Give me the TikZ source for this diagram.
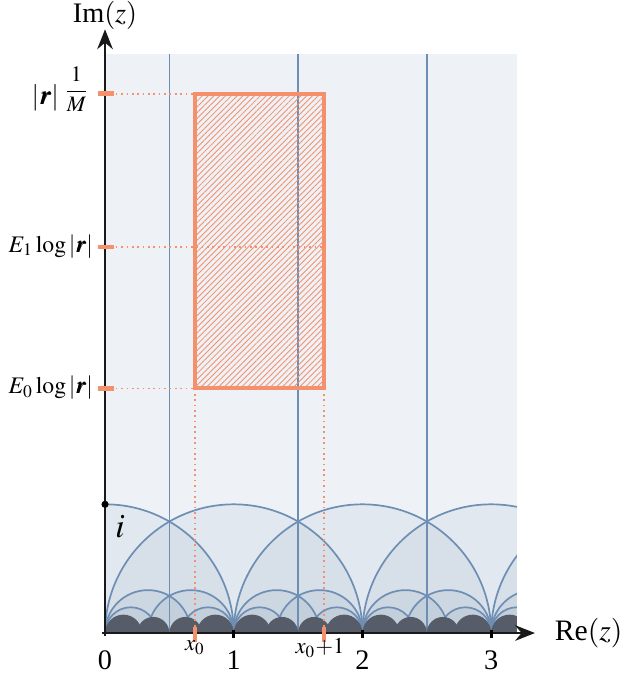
\documentclass[tikz,border=0pt]{standalone}
\usepackage{amsmath}
\usepackage{mathptmx}
\usepackage[no-math]{fontspec}
\setmainfont{Liberation Serif}
\usepackage{bm}
\usetikzlibrary{patterns.meta,arrows.meta}
\definecolor{bgc}{HTML}{EEF2F6}
\definecolor{arcc}{HTML}{6E8EB4}
\definecolor{layerc}{HTML}{6A84A6}
\definecolor{darkc}{HTML}{565D69}
\definecolor{salmonc}{HTML}{F4906C}
\tikzset{
  geod/.style={arcc, line width=0.6pt},
  layer/.style={layerc, fill opacity=0.085},
  darkfill/.style={darkc},
  axisline/.style={black!90, line width=0.9pt},
  guide/.style={salmonc, line width=0.6pt, dash pattern=on 0.6pt off 1.3pt},
  boxline/.style={salmonc, line width=1.4pt},
  hatch/.style={pattern={Lines[angle=45,distance=1.45pt,line width=0.3pt]}, pattern color=salmonc},
  stick/.style={salmonc, line width=1.6pt},
  btick/.style={black, line width=1pt},
  numlab/.style={font=\fontsize{10}{12}\selectfont, inner sep=0pt},
  sublab/.style={font=\fontsize{8}{10}\selectfont, inner sep=0pt},
  leftlab/.style={font=\fontsize{8.4}{10}\selectfont, anchor=base east, inner sep=0pt},
}
\begin{document}
\begin{tikzpicture}[x=1.6cm,y=1.6cm]
\useasboundingbox (-0.816,-0.326) rectangle (4.017,4.918);
\fill[bgc] (0,0) rectangle (3.2,4.5);
\begin{scope}
\clip (0,0) rectangle (3.2,4.5);
% translucent layers of the disks
\foreach \c in {0,1,2,3,4}
  \fill[layer] (\c+1,0) arc[start angle=0,end angle=180,radius=1] -- cycle;
\foreach \n in {0,1,2,3}{
  \fill[layer] (\n+2/3,0) arc[start angle=0,end angle=180,radius=1/3] -- cycle;
  \fill[layer] (\n+1,0) arc[start angle=0,end angle=180,radius=1/3] -- cycle;
  \fill[layer] (\n+2/5,0) arc[start angle=0,end angle=180,radius=1/5] -- cycle;
  \fill[layer] (\n+1,0) arc[start angle=0,end angle=180,radius=1/5] -- cycle;
}
% geodesics
\foreach \c in {0,1,2,3,4}
  \draw[geod] (\c+1,0) arc[start angle=0,end angle=180,radius=1];
\foreach \n in {0,1,2,3}{
  \draw[geod] (\n+2/3,0) arc[start angle=0,end angle=180,radius=1/3];
  \draw[geod] (\n+1,0) arc[start angle=0,end angle=180,radius=1/3];
  \draw[geod] (\n+2/5,0) arc[start angle=0,end angle=180,radius=1/5];
  \draw[geod] (\n+1,0) arc[start angle=0,end angle=180,radius=1/5];
}
\foreach \x in {0.5,1.5,2.5}
  \draw[geod] (\x,0) -- (\x,4.5);
% dark region
\foreach \n in {-1,0,1,2,3}{
  \fill[darkfill] (\n+2/7,0) arc[start angle=0,end angle=180,radius=1/7] -- cycle;
  \fill[darkfill] (\n+1,0) arc[start angle=0,end angle=180,radius=1/7] -- cycle;
  \fill[darkfill] (\n+1/2,0) arc[start angle=0,end angle=180,radius=1/8] -- cycle;
  \fill[darkfill] (\n+3/4,0) arc[start angle=0,end angle=180,radius=1/8] -- cycle;
}
\end{scope}
% coordinates
\coordinate (O) at (0,0);
\coordinate (xend) at (3.34,0);
\coordinate (ystart) at (0,-0.02);
\coordinate (yend) at (0,4.69);
\coordinate (yM) at (0,4.19);
\coordinate (yE1) at (0,3.0);
\coordinate (yE0) at (0,1.9);
\coordinate (xa) at (0.7,0);
\coordinate (xb) at (1.7,0);
\coordinate (RTL) at (0.7,4.19);
\coordinate (RTR) at (1.7,4.19);
\coordinate (RBL) at (0.7,1.9);
\coordinate (RBR) at (1.7,1.9);
\coordinate (RE1) at (1.7,3.0);
% rectangle
\fill[hatch] (RBL) rectangle (RTR);
\draw[guide] (yM) -- (RTL);
\draw[guide] (yE1) -- (RE1);
\draw[guide] (yE0) -- (RBL);
\draw[guide] (RBL) -- (xa);
\draw[guide] (RBR) -- (xb);
\draw[boxline] (RBL) rectangle (RTR);
% axes
\draw[axisline, -{Stealth[length=7pt,width=5.5pt]}] (-0.02,0) -- (xend);
\draw[axisline, -{Stealth[length=7pt,width=5.5pt]}] (ystart) -- (yend);
\foreach \x in {1,2,3}
  \draw[btick] (\x,-0.035) -- (\x,0.02);
\foreach \p in {yM,yE1,yE0}
  \draw[stick] ([xshift=-2.5pt]\p) -- ([xshift=3pt]\p);
\foreach \p in {xa,xb}
  \draw[stick] ([yshift=-3pt]\p) -- ([yshift=2pt]\p);
\fill[black] (0,1) circle[radius=0.028];
% labels
\node[anchor=west, font=\fontsize{10.5}{12}\selectfont, inner sep=0pt] (relab) at (3.49,0) {Re$(z)$};
\node[anchor=base, font=\fontsize{10}{12}\selectfont, inner sep=0pt] (imlab) at (0,4.745) {Im$(z)$};
\node[numlab] (l0) at (0,-0.21) {0};
\node[numlab] (l1) at (1,-0.21) {1};
\node[numlab] (l2) at (2,-0.21) {2};
\node[numlab] (l3) at (3,-0.21) {3};
\node[sublab] (lxa) at (0.7,-0.115) {$x_0$};
\node[sublab] (lxb) at (1.67,-0.115) {$x_0{+}1$};
\node[leftlab, font=\fontsize{9.5}{11}\selectfont] (lM) at (-0.117,4.11) {$|\bm{r}|$\,\raisebox{2.6pt}{\fontsize{7.8}{9}\selectfont$\dfrac{1}{M}$}};
\node[leftlab] (lE1) at (-0.09,2.96) {$E_1\log|\bm{r}|$};
\node[leftlab] (lE0) at (-0.09,1.86) {$E_0\log|\bm{r}|$};
\node[font=\fontsize{12}{14}\selectfont, inner sep=0pt] (ilab) at (0.117,0.83) {$i$};
\end{tikzpicture}
\end{document}
